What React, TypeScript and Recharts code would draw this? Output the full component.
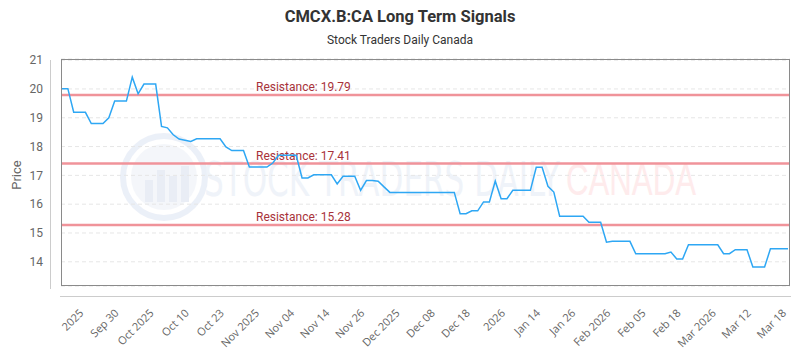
import { LineChart, Line, XAxis, YAxis, CartesianGrid, ReferenceLine } from "recharts";

// daily closes, one per trading session (index 0 = first session shown)
const PRICES = [
  20.01, 20.01, 19.19, 19.19, 19.19, 18.8, 18.8, 18.8, 19.0, 19.58,
  19.58, 19.58, 20.41, 19.83, 20.17, 20.17, 20.17, 18.7, 18.65, 18.41,
  18.26, 18.22, 18.18, 18.27, 18.27, 18.27, 18.27, 18.27, 17.99, 17.86,
  17.86, 17.86, 17.29, 17.29, 17.29, 17.29, 17.43, 17.7, 17.7, 17.7,
  17.7, 16.91, 16.91, 17.02, 17.02, 17.02, 17.02, 16.7, 16.97, 16.97,
  16.97, 16.48, 16.82, 16.82, 16.8, 16.6, 16.41, 16.41, 16.41, 16.41,
  16.41, 16.41, 16.41, 16.41, 16.41, 16.41, 16.41, 16.41, 15.67, 15.67,
  15.77, 15.77, 16.08, 16.08, 16.8, 16.19, 16.19, 16.48, 16.48, 16.48,
  16.48, 17.28, 17.28, 16.62, 16.42, 15.58, 15.58, 15.58, 15.58, 15.58,
  15.37, 15.37, 15.37, 14.68, 14.71, 14.71, 14.71, 14.71, 14.28, 14.28,
  14.28, 14.28, 14.28, 14.28, 14.34, 14.1, 14.1, 14.59, 14.59, 14.59,
  14.59, 14.59, 14.59, 14.28, 14.28, 14.42, 14.42, 14.42, 13.82, 13.82,
  13.82, 14.45, 14.45, 14.45, 14.45,
];

const TICK_POS = [3, 9, 15, 21, 27, 33, 39, 45, 51, 57, 63, 69, 75, 81, 87, 93, 99, 105, 111, 117, 123];
const TICK_LABELS = [
  "2025", "Sep 30", "Oct 2025", "Oct 10", "Oct 23", "Nov 2025", "Nov 04",
  "Nov 14", "Nov 26", "Dec 2025", "Dec 08", "Dec 18", "2026", "Jan 14",
  "Jan 26", "Feb 2026", "Feb 05", "Feb 18", "Mar 2026", "Mar 12", "Mar 18",
];

const Y_TICKS = [14, 15, 16, 17, 18, 19, 20, 21];
const RESISTANCE = [19.79, 17.41, 15.28];

const data = PRICES.map((price, i) => ({ i, price }));

function DateTick({ x, y, payload }: any) {
  const idx = TICK_POS.indexOf(payload.value);
  return (
    <g transform={`translate(${x + 2},${y + 23})`}>
      <text
        textAnchor="end"
        transform="rotate(-45)"
        fill="#666"
        fontSize={11}
        fontFamily="'Open Sans', sans-serif"
        dy="0.35em"
      >
        {TICK_LABELS[idx]}
      </text>
    </g>
  );
}

function ResLabel({ viewBox, text }: any) {
  return (
    <text
      x={viewBox.x + 195}
      y={viewBox.y - 4}
      fill="#a8323a"
      fontSize={12}
      fontFamily="Roboto, sans-serif"
    >
      {text}
    </text>
  );
}

// faint background logo + brand text
function Watermark() {
  return (
    <svg width={800} height={350} style={{ position: "absolute", left: 0, top: 0 }}>
      <g opacity={0.45}>
        <circle cx={164} cy={177} r={41} fill="none" stroke="#d5def0" strokeWidth={6} />
        <circle cx={164} cy={177} r={33} fill="#e8edf6" />
        <rect x={145} y={180} width={8} height={22} fill="#d0d9ea" />
        <rect x={157} y={170} width={8} height={32} fill="#d0d9ea" />
        <rect x={169} y={176} width={8} height={26} fill="#d0d9ea" />
        <rect x={181} y={166} width={8} height={36} fill="#d0d9ea" />
      </g>
      <text
        x={204}
        y={196}
        fill="#eff3f9"
        fontSize={48}
        fontFamily="'DejaVu Sans', sans-serif"
        textLength={356}
        lengthAdjust="spacingAndGlyphs"
      >
        STOCK TRADERS DAILY
      </text>
      <text
        x={566}
        y={195}
        fill="#feebec"
        fontSize={44}
        fontFamily="'Liberation Sans', sans-serif"
        textLength={130}
        lengthAdjust="spacingAndGlyphs"
      >
        CANADA
      </text>
    </svg>
  );
}

export default function App() {
  return (
    <div style={{ position: "absolute", left: 0, top: 0, width: 800, height: 350, background: "#fff" }}>
      <Watermark />
      <div
        style={{
          position: "absolute",
          left: 0,
          top: 7,
          width: 800,
          textAlign: "center",
          fontFamily: "Roboto, sans-serif",
          fontWeight: 700,
          fontSize: 16.5,
          color: "#333",
        }}
      >
        CMCX.B:CA Long Term Signals
      </div>
      <div
        style={{
          position: "absolute",
          left: 0,
          top: 33,
          width: 800,
          textAlign: "center",
          fontFamily: "Roboto, sans-serif",
          fontSize: 12,
          color: "#333",
        }}
      >
        Stock Traders Daily Canada
      </div>
      <div
        style={{
          position: "absolute",
          left: 16,
          top: 175,
          transform: "translate(-50%,-50%) rotate(-90deg)",
          fontFamily: "Roboto, sans-serif",
          fontSize: 13,
          color: "#666",
        }}
      >
        Price
      </div>
      {/* detached axis lines */}
      <div style={{ position: "absolute", left: 50, top: 60, width: 1, height: 229, background: "#ccc" }} />
      <div style={{ position: "absolute", left: 60, top: 296, width: 731, height: 1, background: "#ccc" }} />
      <div style={{ position: "absolute", left: 0, top: 0 }}>
        <LineChart width={800} height={350} data={data} margin={{ top: 59, right: 10, bottom: 34, left: 21 }}>
          <CartesianGrid horizontal vertical={false} stroke="#e6e6e6" strokeDasharray="4 3" />
          <XAxis
            dataKey="i"
            type="number"
            domain={[0, 124]}
            ticks={TICK_POS}
            interval={0}
            padding={{ left: 1, right: 2 }}
            axisLine={false}
            tickLine={false}
            tickSize={0}
            height={30}
            tick={<DateTick />}
          />
          <YAxis
            domain={[13.16, 21.04]}
            ticks={Y_TICKS}
            width={40}
            axisLine={false}
            tickLine={false}
            tickSize={0}
            tickMargin={18}
            tick={{ fill: "#666", fontSize: 12, fontFamily: "Roboto, sans-serif" }}
            allowDataOverflow
          />
          {RESISTANCE.map((r) => (
            <ReferenceLine
              key={r}
              y={r}
              stroke="#f0939a"
              strokeWidth={2.5}
              label={<ResLabel text={`Resistance: ${r.toFixed(2)}`} />}
            />
          ))}
          <Line
            type="linear"
            dataKey="price"
            stroke="#2ea7f4"
            strokeWidth={1.5}
            dot={false}
            isAnimationActive={false}
          />
        </LineChart>
      </div>
      <div
        style={{
          position: "absolute",
          left: 61,
          top: 59,
          width: 727,
          height: 225,
          border: "1px solid #8a8a8a",
          pointerEvents: "none",
        }}
      />
    </div>
  );
}
